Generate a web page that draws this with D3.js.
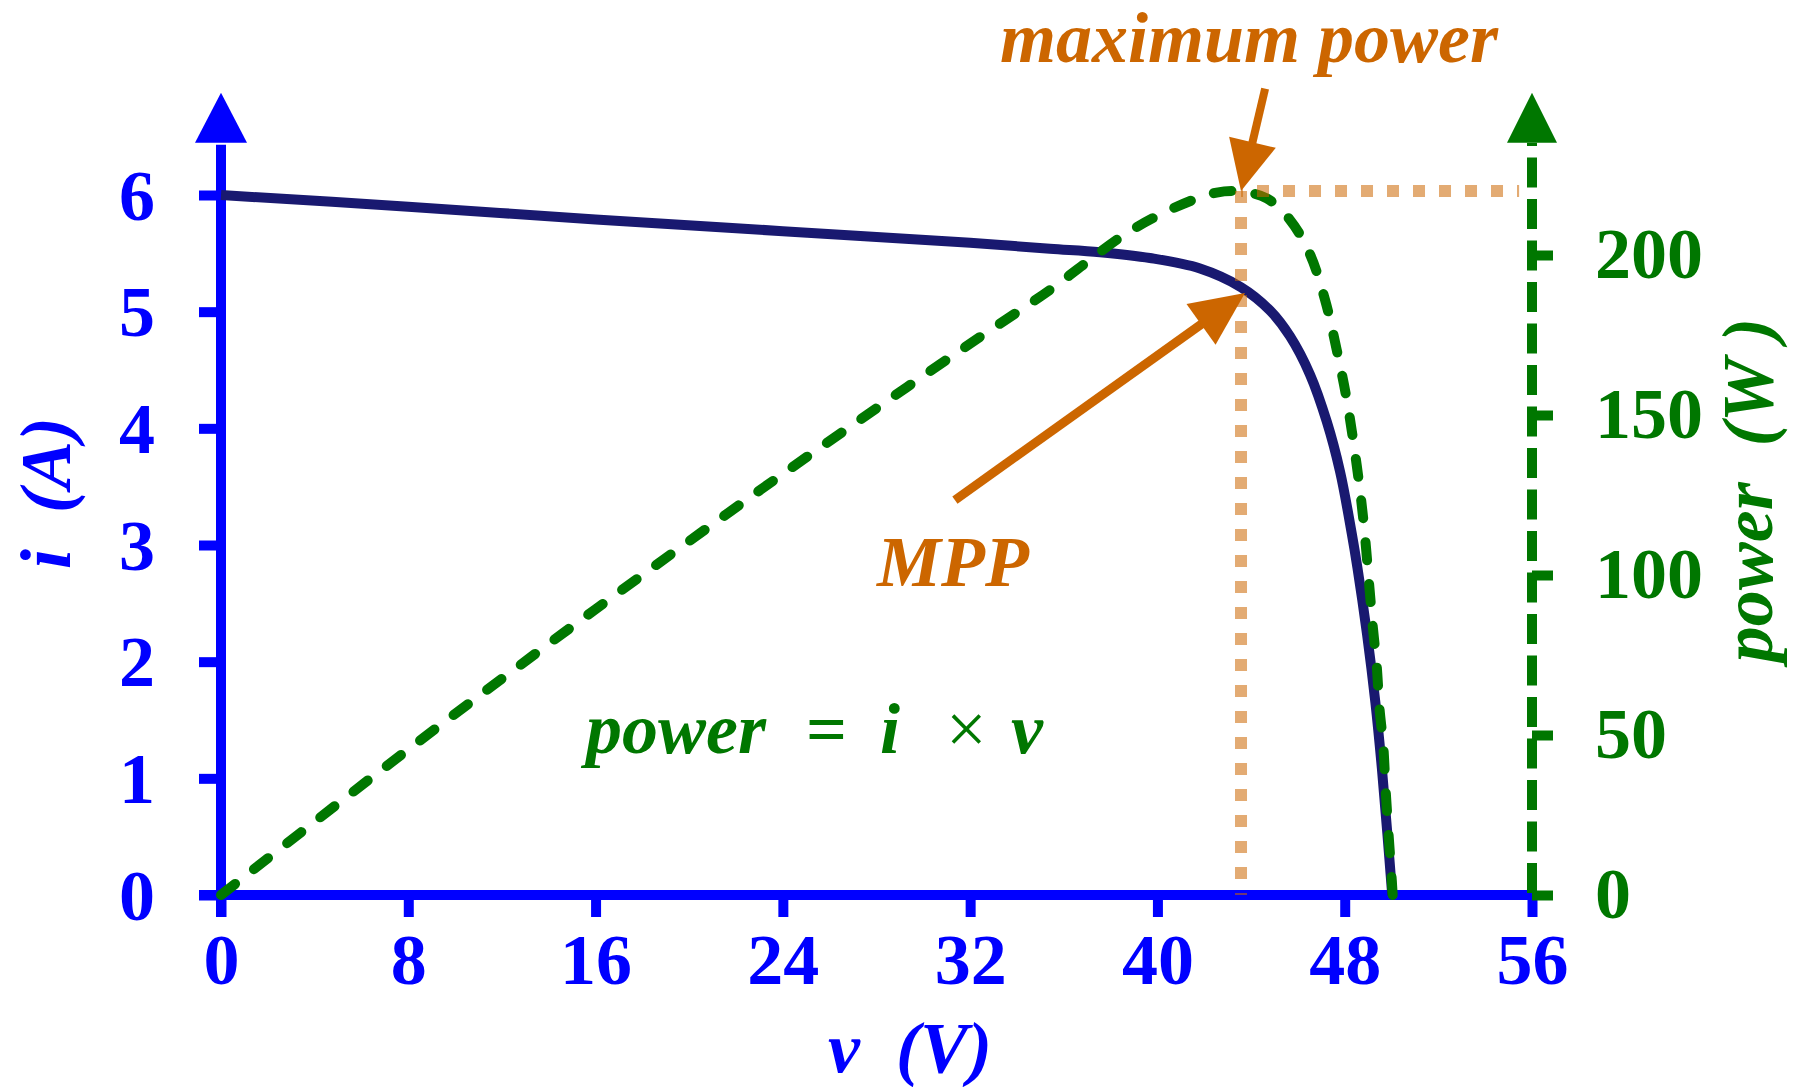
<!DOCTYPE html>
<html>
<head>
<meta charset="utf-8">
<script src="https://cdn.jsdelivr.net/npm/d3@7"></script>
<style>
  html, body { margin: 0; padding: 0; background: #ffffff; }
  svg text { font-family: "Liberation Serif", "Times New Roman", serif; white-space: pre; }
</style>
</head>
<body>
<script>
// ---------------- data ----------------
const xTicks = [0, 8, 16, 24, 32, 40, 48, 56];
const iTicks = [0, 1, 2, 3, 4, 5, 6];
const pTicks = [0, 50, 100, 150, 200];

// I-V curve (v in volts, i in amps)
const ivVoltage = [0, 8, 16, 24, 32, 35.41, 37.55, 39.68, 41.82, 43.57, 44.81, 45.66, 46.52, 47.23, 47.80, 48.30, 48.54, 48.95, 49.31, 49.59, 49.82, 50.03];
const ivCurrent = [6.00, 5.90, 5.79, 5.69, 5.59, 5.54, 5.51, 5.46, 5.37, 5.21, 5.01, 4.79, 4.46, 4.06, 3.63, 3.10, 2.81, 2.24, 1.65, 1.08, 0.53, 0];

// power curve (v in volts, power in watts)
const pwVoltage = [0, 4, 8, 12, 16, 20, 24, 28, 32, 35.41, 36.83, 38.68, 40.67, 42.53, 43.57, 44.67, 45.66, 46.50, 47.16, 47.66, 48.09, 48.52, 48.80, 49.04, 49.20, 49.37, 49.48, 49.65, 49.74, 49.86, 50.00, 50.05];
const pwPower   = [0, 22.9, 45.5, 67.6, 89.3, 110.6, 131.6, 152.1, 172.3, 189.1, 196.9, 206.8, 214.6, 219.5, 219.8, 217.7, 211.0, 200.5, 186.0, 170.3, 154.7, 133.9, 117.0, 97.4, 83.8, 71.3, 58.8, 46.3, 33.8, 20.3, 5.7, 0];

// maximum power point
const mppVoltage = 43.57;
const mppPower = 220;

// annotation arrows: [voltage, value]
const arrowMaxTail = [44.6, 252];    // power units
const arrowMaxTip  = [43.57, 220];
const arrowMppTail = [31.35, 3.385]; // current units
const arrowMppTip  = [43.74, 5.16];

// ---------------- styles ----------------
const BLUE = "#0000ff", GREEN = "#007700", NAVY = "#191970", ORANGE = "#cc6600";
const FS = 72;

const svg = d3.select("body").append("svg").attr("width", 1802).attr("height", 1087);

const x  = d3.scaleLinear().domain([0, 56]).range([221, 1532]);
const yI = d3.scaleLinear().domain([0, 6]).range([895, 195]);
const yP = d3.scaleLinear().domain([0, 200]).range([895, 255]);

// ---------------- axis lines ----------------
svg.append("line").attr("x1", x(0) - 22).attr("x2", x(56) + 5)
  .attr("y1", yI(0)).attr("y2", yI(0)).attr("stroke", BLUE).attr("stroke-width", 10);
const arrowTopY = 92.7, arrowBaseY = 142.7;
svg.append("line").attr("x1", x(0)).attr("x2", x(0))
  .attr("y1", yI(0) + 22).attr("y2", arrowBaseY + 2).attr("stroke", BLUE).attr("stroke-width", 10);
svg.append("polygon").attr("fill", BLUE)
  .attr("points", `${x(0)},${arrowTopY} ${x(0) - 26},${arrowBaseY} ${x(0) + 26},${arrowBaseY}`);
svg.append("line").attr("x1", x(56)).attr("x2", x(56))
  .attr("y1", yP(0) - 2).attr("y2", arrowBaseY)
  .attr("stroke", GREEN).attr("stroke-width", 10).attr("stroke-dasharray", "30,11.5");
svg.append("polygon").attr("fill", GREEN)
  .attr("points", `${x(56)},${arrowTopY} ${x(56) - 25},${arrowBaseY} ${x(56) + 25},${arrowBaseY}`);

// ---------------- axes (ticks + labels) ----------------
function styleTicks(g, color, tx, ty) {
  g.select(".domain").remove();
  g.selectAll(".tick line").attr("stroke-width", 10);
  const t = g.selectAll(".tick text").attr("dy", 0)
    .attr("font-size", FS).attr("font-weight", "bold").attr("fill", color)
    .attr("font-family", "Liberation Serif");
  if (tx !== null) t.attr("x", tx);
  if (ty !== null) t.attr("y", ty);
}
const gx = svg.append("g").attr("transform", `translate(0,${yI(0)})`).style("color", BLUE)
  .call(d3.axisBottom(x).tickValues(xTicks).tickFormat(d3.format("d")).tickSize(22).tickSizeOuter(0));
styleTicks(gx, BLUE, null, 89);

const gl = svg.append("g").attr("transform", `translate(${x(0)},0)`).style("color", BLUE)
  .call(d3.axisLeft(yI).tickValues(iTicks).tickFormat(d3.format("d")).tickSize(22).tickSizeOuter(0));
styleTicks(gl, BLUE, -66, 24);

const gr = svg.append("g").attr("transform", `translate(${x(56)},0)`).style("color", GREEN)
  .call(d3.axisRight(yP).tickValues(pTicks).tickFormat(d3.format("d")).tickSize(21).tickSizeOuter(0));
styleTicks(gr, GREEN, 63, 22);

// ---------------- curves ----------------
const ivData = ivVoltage.map((v, k) => [v, ivCurrent[k]]);
const pwData = pwVoltage.map((v, k) => [v, pwPower[k]]);

svg.append("path").datum(ivData)
  .attr("fill", "none").attr("stroke", NAVY).attr("stroke-width", 10)
  .attr("d", d3.line().x(d => x(d[0])).y(d => yI(d[1])).curve(d3.curveCatmullRom.alpha(0.5)));

svg.append("path").datum(pwData)
  .attr("fill", "none").attr("stroke", GREEN).attr("stroke-width", 10)
  .attr("stroke-linecap", "round").attr("stroke-dasharray", "18,24")
  .attr("d", d3.line().x(d => x(d[0])).y(d => yP(d[1])).curve(d3.curveCatmullRom.alpha(0.5)));

// ---------------- MPP dotted guides ----------------
svg.append("line").attr("x1", x(mppVoltage)).attr("x2", x(mppVoltage))
  .attr("y1", yP(mppPower)).attr("y2", yP(0))
  .attr("stroke", ORANGE).attr("stroke-opacity", 0.55).attr("stroke-width", 12)
  .attr("stroke-dasharray", "12,14");
svg.append("line").attr("x1", x(mppVoltage)).attr("x2", x(55.45))
  .attr("y1", yP(mppPower)).attr("y2", yP(mppPower))
  .attr("stroke", ORANGE).attr("stroke-opacity", 0.55).attr("stroke-width", 12)
  .attr("stroke-dasharray", "12,14").attr("stroke-dashoffset", 10);

// ---------------- arrows ----------------
function arrow(x1, y1, x2, y2, headLen, headHalf, shaft) {
  const dx = x2 - x1, dy = y2 - y1, L = Math.hypot(dx, dy);
  const ux = dx / L, uy = dy / L, px = -uy, py = ux;
  const bx = x2 - ux * headLen, by = y2 - uy * headLen;
  svg.append("line").attr("x1", x1).attr("y1", y1).attr("x2", bx + ux * 2).attr("y2", by + uy * 2)
    .attr("stroke", ORANGE).attr("stroke-width", shaft);
  svg.append("polygon").attr("fill", ORANGE)
    .attr("points", `${x2},${y2} ${bx + px * headHalf},${by + py * headHalf} ${bx - px * headHalf},${by - py * headHalf}`);
}
arrow(x(arrowMaxTail[0]), yP(arrowMaxTail[1]), x(arrowMaxTip[0]), yP(arrowMaxTip[1]), 50, 24, 8);
arrow(x(arrowMppTail[0]), yI(arrowMppTail[1]), x(arrowMppTip[0]), yI(arrowMppTip[1]), 54, 25, 9);

// ---------------- texts ----------------
function txt(s, tx, ty, color, opts = {}) {
  const t = svg.append("text").attr("x", tx).attr("y", ty).attr("fill", color)
    .attr("font-size", opts.size || FS)
    .attr("font-weight", opts.weight || "bold")
    .attr("font-style", opts.style || "italic")
    .attr("text-anchor", opts.anchor || "start")
    .text(s);
  if (opts.rotate) t.attr("transform", `rotate(-90,${tx},${ty})`);
  return t;
}
txt("maximum power", 1249, 62, ORANGE, { anchor: "middle" });
txt("MPP", 877, 586, ORANGE);
txt("v  (V)", 910, 1072, BLUE, { anchor: "middle" });
txt("i  (A)", 70, 493, BLUE, { anchor: "middle", rotate: true });
txt("power  (W )", 1772, 490, GREEN, { anchor: "middle", rotate: true });

// formula
txt("power", 586, 753, GREEN);
txt("=", 806, 753, GREEN, { style: "normal" });
txt("i", 880, 753, GREEN);
txt("\u00d7", 946, 753, GREEN, { style: "normal", weight: "normal" });
txt("v", 1011, 753, GREEN);
</script>
</body>
</html>
